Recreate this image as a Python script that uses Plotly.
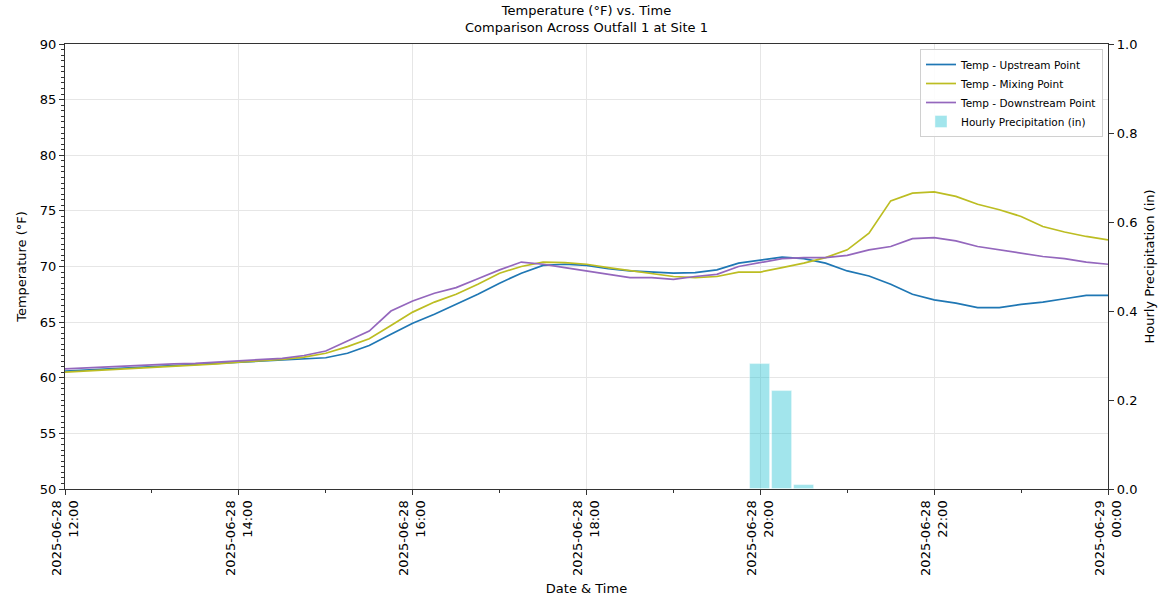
import pandas as pd
import plotly.graph_objects as go

# 15-minute readings, 2025-06-28 12:00 through 2025-06-29 00:00
times = pd.date_range("2025-06-28 12:00", "2025-06-29 00:00", freq="15min")

temp_upstream = [
    60.6, 60.7, 60.8, 60.9, 61.0, 61.1, 61.2, 61.3,
    61.4, 61.5, 61.6, 61.7, 61.8, 62.2, 62.9, 63.9,
    64.9, 65.7, 66.6, 67.5, 68.5, 69.4, 70.1, 70.2,
    70.1, 69.8, 69.6, 69.5, 69.4, 69.45, 69.7, 70.3,
    70.6, 70.85, 70.7, 70.3, 69.6, 69.15, 68.4, 67.5,
    67.0, 66.7, 66.3, 66.3, 66.6, 66.8, 67.1, 67.4,
    67.4,
]
temp_mixing = [
    60.5, 60.6, 60.75, 60.85, 60.95, 61.05, 61.15, 61.25,
    61.4, 61.5, 61.65, 61.85, 62.2, 62.8, 63.5, 64.7,
    65.9, 66.8, 67.5, 68.4, 69.4, 70.0, 70.4, 70.35,
    70.2, 69.9, 69.65, 69.4, 69.1, 69.0, 69.1, 69.5,
    69.5, 69.9, 70.3, 70.8, 71.5, 73.0, 75.9, 76.6,
    76.7, 76.3, 75.6, 75.1, 74.5, 73.6, 73.1, 72.7,
    72.4,
]
temp_downstream = [
    60.8, 60.9, 61.0, 61.1, 61.2, 61.25, 61.3, 61.4,
    61.5, 61.6, 61.75, 62.0, 62.4, 63.3, 64.2, 66.0,
    66.9, 67.6, 68.1, 68.9, 69.7, 70.4, 70.2, 69.9,
    69.6, 69.3, 69.0, 69.0, 68.85, 69.1, 69.3, 70.0,
    70.35, 70.7, 70.8, 70.8, 71.0, 71.5, 71.8, 72.5,
    72.6, 72.3, 71.8, 71.5, 71.2, 70.9, 70.7, 70.4,
    70.2,
]

precip_times = pd.to_datetime(["2025-06-28 20:00", "2025-06-28 20:15", "2025-06-28 20:30"])
precip_in = [0.28, 0.22, 0.01]

x_tick_vals = pd.date_range("2025-06-28 12:00", "2025-06-29 00:00", freq="2h")
x_tick_text = [t.strftime("%Y-%m-%d<br>%H:%M") for t in x_tick_vals]

FONT = "DejaVu Sans"
AXIS_COLOR = "#333333"
GRID_COLOR = "#e6e6e6"

fig = go.Figure()

fig.add_trace(go.Bar(
    x=precip_times, y=precip_in, yaxis="y2",
    width=830000,
    marker=dict(color="rgba(23,190,207,0.4)", line=dict(color="rgba(255,255,255,0.5)", width=0.8)),
    name="Hourly Precipitation (in)",
    legendrank=4,
))
fig.add_trace(go.Scatter(
    x=times, y=temp_upstream, mode="lines",
    line=dict(color="#1f77b4", width=1.7), name="Temp - Upstream Point",
    legendrank=1,
))
fig.add_trace(go.Scatter(
    x=times, y=temp_mixing, mode="lines",
    line=dict(color="#bcbd22", width=1.7), name="Temp - Mixing Point",
    legendrank=2,
))
fig.add_trace(go.Scatter(
    x=times, y=temp_downstream, mode="lines",
    line=dict(color="#9467bd", width=1.7), name="Temp - Downstream Point",
    legendrank=3,
))

fig.update_layout(
    width=1162, height=600,
    margin=dict(l=65, r=54, t=44, b=111),
    paper_bgcolor="white", plot_bgcolor="white",
    font=dict(family=FONT, size=13, color="black"),
    showlegend=True,
    title=dict(
        text="Temperature (°F) vs. Time<br>Comparison Across Outfall 1 at Site 1",
        x=(65 + 1108) / 2 / 1162, xanchor="center",
        y=1 - 15 / 600, yanchor="middle", yref="container",
        automargin=False,
        font=dict(family=FONT, size=13, color="black"),
    ),
    xaxis=dict(
        range=["2025-06-28 12:00", "2025-06-29 00:00"],
        tickvals=x_tick_vals, ticktext=x_tick_text, tickangle=-90,
        ticks="outside", ticklen=5, tickcolor=AXIS_COLOR, tickwidth=1.2,
        minor=dict(ticks="outside", dtick=3600000, ticklen=3, tickcolor=AXIS_COLOR, showgrid=False),
        showline=True, linecolor=AXIS_COLOR, linewidth=1.3, mirror=True,
        showgrid=True, gridcolor=GRID_COLOR, gridwidth=1,
        zeroline=False, automargin=False,
        title=dict(text="Date & Time", standoff=8, font=dict(size=13)),
        tickfont=dict(size=13),
    ),
    yaxis=dict(
        range=[50, 90], tickvals=[50, 55, 60, 65, 70, 75, 80, 85, 90],
        ticks="outside", ticklen=5, tickcolor=AXIS_COLOR, tickwidth=1.2,
        minor=dict(ticks="outside", dtick=0.5, ticklen=3, tickcolor=AXIS_COLOR, showgrid=False),
        showline=True, linecolor=AXIS_COLOR, linewidth=1.3,
        showgrid=True, gridcolor=GRID_COLOR, gridwidth=1,
        zeroline=False, automargin=False,
        title=dict(text="Temperature (°F)", standoff=10, font=dict(size=13)),
        tickfont=dict(size=13),
    ),
    yaxis2=dict(
        range=[0, 1], overlaying="y", side="right",
        tickvals=[0, 0.2, 0.4, 0.6, 0.8, 1.0], tickformat=".1f",
        ticks="outside", ticklen=5, tickcolor=AXIS_COLOR, tickwidth=1.2,
        showline=True, linecolor=AXIS_COLOR, linewidth=1.3,
        showgrid=False, zeroline=False, automargin=False,
        title=dict(text="Hourly Precipitation (in)", standoff=8, font=dict(size=13)),
        tickfont=dict(size=13),
    ),
    legend=dict(
        x=(1103 - 65) / 1043, y=(489 - 49) / 445,
        xanchor="right", yanchor="top",
        bgcolor="rgba(255,255,255,0.85)", bordercolor="#d0d0d0", borderwidth=1,
        font=dict(family=FONT, size=10.5, color="black"),
        traceorder="normal", itemwidth=30, tracegroupgap=0,
    ),
    bargap=0,
)

fig.write_html("out.html")
